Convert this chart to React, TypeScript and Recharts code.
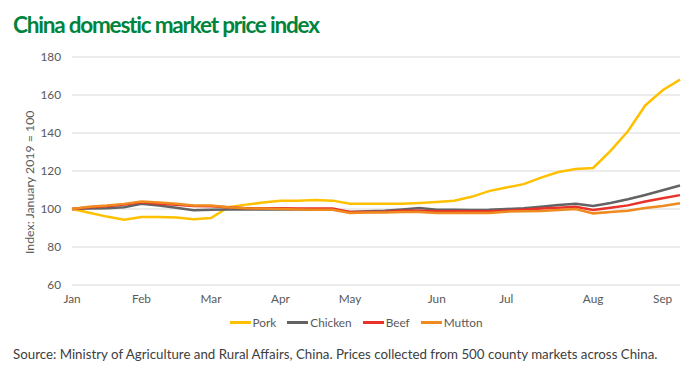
import React from 'react';
import { LineChart, Line, XAxis, YAxis, CartesianGrid, Legend } from 'recharts';

// weekly index values, January 2019 = 100
const pork = [100, 98, 96, 94.3, 95.8, 95.8, 95.5, 94.6, 95.2, 101, 102.3, 103.4, 104.4, 104.4, 104.8, 104.4, 102.8, 102.8, 102.8, 102.7, 103.2, 103.7, 104.4, 106.4, 109.4, 111.3, 113.1, 116.5, 119.5, 121.1, 121.6, 130.6, 140.9, 154.5, 162.5, 168.1];
const chicken = [100, 100.2, 100.4, 100.9, 102.7, 101.8, 100.7, 99.3, 99.6, 99.8, 99.8, 99.8, 99.8, 99.8, 99.8, 99.8, 98.4, 98.8, 99.1, 99.8, 100.5, 99.6, 99.6, 99.5, 99.6, 100, 100.4, 101.2, 102.1, 102.8, 101.6, 103.2, 105.1, 107.4, 109.9, 112.4];
const beef = [100, 100.9, 101.4, 102.3, 103.5, 102.8, 102.3, 101.6, 101.4, 100.9, 100.4, 100.4, 100.4, 100.2, 100.2, 100.2, 98.4, 98.4, 98.6, 99.1, 99.1, 98.8, 98.8, 98.8, 98.8, 99.1, 99.6, 100.2, 100.7, 101.2, 99.5, 100.7, 101.9, 103.9, 105.7, 107.3];
const mutton = [100, 101.2, 101.8, 102.7, 103.9, 103.4, 102.7, 101.9, 101.8, 100.9, 100.4, 100.2, 100, 99.8, 99.6, 99.6, 97.9, 98.1, 98.1, 98.4, 98.4, 97.9, 97.9, 97.9, 97.9, 98.6, 98.8, 98.9, 99.5, 100, 97.7, 98.4, 99.1, 100.5, 101.6, 103];

const monthLabels = ['Jan', 'Feb', 'Mar', 'Apr', 'May', 'Jun', 'Jul', 'Aug', 'Sep'];
const monthWeeks = [0, 4, 8, 12, 16, 21, 25, 30, 34];
const yTicks = [60, 80, 100, 120, 140, 160, 180];

const series = [
  { key: 'Pork', color: '#FFC000' },
  { key: 'Chicken', color: '#636363' },
  { key: 'Beef', color: '#E8322A' },
  { key: 'Mutton', color: '#EE8A1E' },
];

const data = pork.map((p, i) => ({
  week: i,
  Pork: p,
  Chicken: chicken[i],
  Beef: beef[i],
  Mutton: mutton[i],
}));

const font = 'Lato, "Open Sans", sans-serif';
const grey = '#595959';

const LegendContent = () => (
  <div style={{ display: 'flex', justifyContent: 'center', fontFamily: font, fontSize: 11.8, color: grey, paddingLeft: 33 }}>
    {series.map(s => (
      <div key={s.key} style={{ display: 'flex', alignItems: 'center', marginRight: 11 }}>
        <span style={{ display: 'inline-block', width: 21, height: 2.5, background: s.color, marginRight: 2 }} />
        {s.key}
      </div>
    ))}
  </div>
);

export default function App() {
  return (
    <div style={{ position: 'fixed', left: 0, top: 0, width: 700, height: 373, background: '#fff' }}>
      <div style={{ position: 'absolute', left: 13, top: 11, fontFamily: font, fontWeight: 700, fontSize: 22.5, letterSpacing: -1.2, color: '#00843D', whiteSpace: 'nowrap' }}>
        China domestic market price index
      </div>
      <LineChart width={700} height={373} data={data} margin={{ top: 57, right: 20, left: 10, bottom: 43 }}>
        <CartesianGrid vertical={false} stroke="#D9D9D9" />
        <XAxis
          dataKey="week"
          type="number"
          domain={[0, 35]}
          ticks={monthWeeks}
          tickFormatter={(v: number) => monthLabels[monthWeeks.indexOf(v)]}
          axisLine={false}
          tickLine={false}
          tick={{ fontSize: 11.8, fill: grey, fontFamily: font }}
          tickMargin={4}
          height={30}
        />
        <YAxis
          domain={[60, 180]}
          ticks={yTicks}
          axisLine={false}
          tickLine={false}
          width={62}
          tick={{ fontSize: 11.8, fill: grey, fontFamily: font }}
          tickMargin={5}
          label={{ value: 'Index: January 2019 = 100', angle: -90, position: 'insideLeft', dx: 15, dy: 83, style: { fontSize: 12.3, fill: grey, fontFamily: font } }}
        />
        <Legend verticalAlign="bottom" content={LegendContent} wrapperStyle={{ bottom: 43 }} />
        {series.map(s => (
          <Line key={s.key} type="linear" dataKey={s.key} stroke={s.color} strokeWidth={2.5} dot={false} isAnimationActive={false} />
        ))}
      </LineChart>
      <div style={{ position: 'absolute', left: 13, top: 346, fontFamily: font, fontSize: 13.3, color: '#404040', whiteSpace: 'nowrap' }}>
        Source: Ministry of Agriculture and Rural Affairs, China. Prices collected from 500 county markets across China.
      </div>
    </div>
  );
}
